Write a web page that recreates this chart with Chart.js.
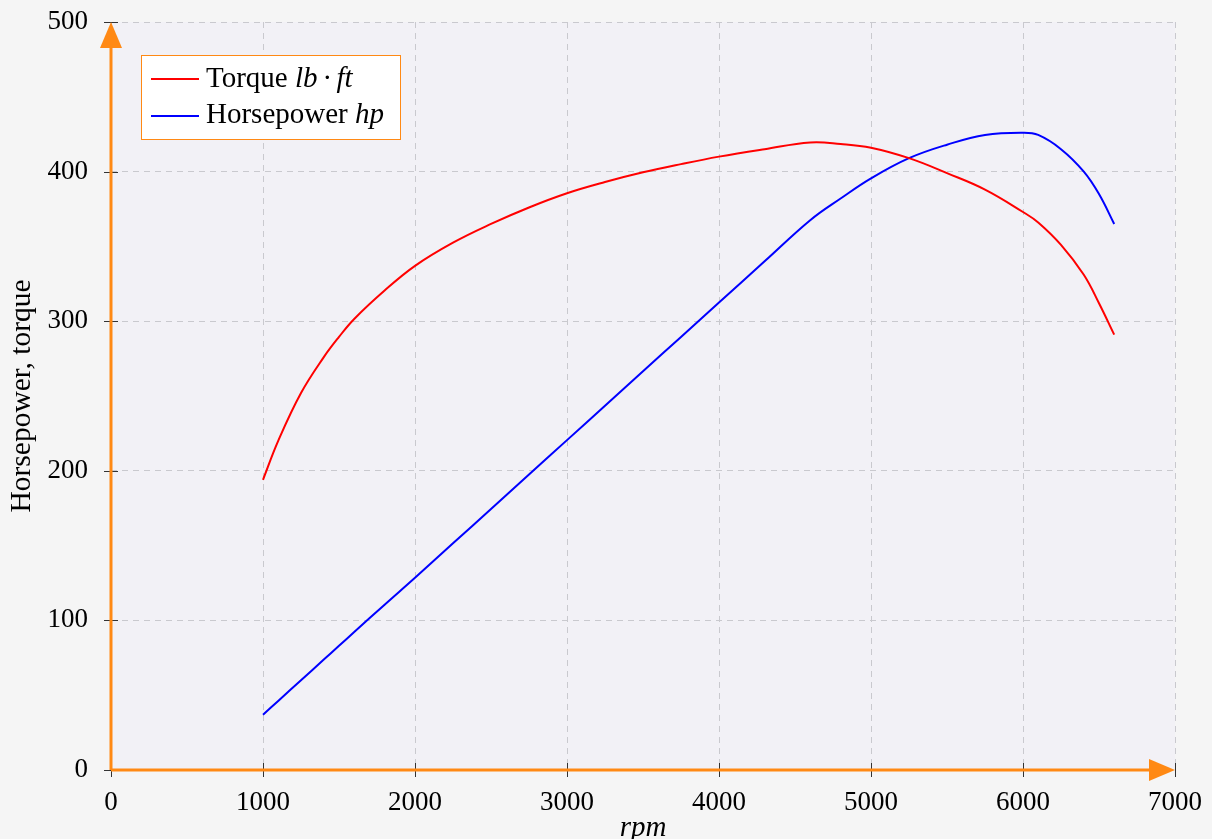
<html>
<head>
  <script src="https://cdn.jsdelivr.net/npm/chart.js@4.4.0/dist/chart.umd.min.js"></script>
  <style>
    body { margin: 0; background: #f5f5f5; }
  </style>
</head>
<body>
  <canvas id="chart" width="1212" height="839"></canvas>
  <script>
    // engine speed samples (rpm)
    const rpm = [1000, 1100, 1250, 1400, 1500, 1600, 1800, 2000, 2250, 2500, 2750, 3000, 3250, 3500, 3750, 4000,
                 4300, 4600, 4800, 5000, 5250, 5500, 5750, 6000, 6100, 6250, 6400, 6500, 6600];
    // torque, lb·ft
    const torque = [194, 220, 252, 276, 289.5, 301.5, 320.5, 337, 352.5, 365, 376, 385.5, 393, 399.5, 405, 410,
                    415, 419.5, 418.5, 416, 409, 399, 388, 373, 366, 351, 331, 312, 291];
    // horsepower, hp
    const horsepower = [37, 46.2, 60, 73.8, 83, 92.2, 110.5, 128.5, 151.5, 174.5, 197.5, 220.5, 243.5, 266.5, 289.5, 312.5,
                        340, 367.5, 382, 395.5, 409, 418, 424.5, 426, 424.5, 415, 400, 385, 365];

    const xMin = 0, xMax = 7000, xStep = 1000;
    const yMin = 0, yMax = 500, yStep = 100;

    const orange = 'rgb(255,137,20)';
    const serif = '"Liberation Serif", "DejaVu Serif", serif';

    const toPoints = ys => rpm.map((r, i) => ({ x: r, y: ys[i] }));

    // background, axes with arrows, tick marks and legend
    const decor = {
      id: 'decor',
      beforeDraw(chart) {
        const { ctx, chartArea: a } = chart;
        ctx.save();
        ctx.fillStyle = '#f5f5f5';
        ctx.fillRect(0, 0, chart.width, chart.height);
        ctx.fillStyle = '#f2f1f6';
        ctx.fillRect(a.left, a.top, a.right - a.left, a.bottom - a.top);
        ctx.restore();
      },
      afterDraw(chart) {
        const { ctx, chartArea: a, scales: { x, y } } = chart;
        ctx.save();

        // tick marks across the axes
        ctx.strokeStyle = '#333';
        ctx.lineWidth = 1;
        x.ticks.forEach(t => {
          const px = Math.round(x.getPixelForValue(t.value)) + 0.5;
          ctx.beginPath();
          ctx.moveTo(px, a.bottom - 7);
          ctx.lineTo(px, a.bottom + 7);
          ctx.stroke();
        });
        y.ticks.forEach(t => {
          const py = Math.round(y.getPixelForValue(t.value)) + 0.5;
          ctx.beginPath();
          ctx.moveTo(a.left - 7, py);
          ctx.lineTo(a.left + 7, py);
          ctx.stroke();
        });

        // orange axis lines
        ctx.strokeStyle = orange;
        ctx.lineWidth = 3;
        ctx.beginPath();
        ctx.moveTo(a.left, a.bottom);
        ctx.lineTo(a.left, a.top + 20);
        ctx.moveTo(a.left, a.bottom);
        ctx.lineTo(a.right - 20, a.bottom);
        ctx.stroke();

        ctx.fillStyle = orange;
        ctx.beginPath();
        ctx.moveTo(a.left, a.top);
        ctx.lineTo(a.left - 11, a.top + 26);
        ctx.lineTo(a.left + 11, a.top + 26);
        ctx.closePath();
        ctx.fill();
        ctx.beginPath();
        ctx.moveTo(a.right, a.bottom);
        ctx.lineTo(a.right - 26, a.bottom - 11);
        ctx.lineTo(a.right - 26, a.bottom + 11);
        ctx.closePath();
        ctx.fill();

        // legend
        const bx = 141.5, by = 55.5, bw = 259, bh = 84;
        ctx.fillStyle = '#ffffff';
        ctx.fillRect(bx, by, bw, bh);
        ctx.strokeStyle = orange;
        ctx.lineWidth = 1;
        ctx.strokeRect(bx, by, bw, bh);

        const entries = [
          { color: 'red', text: 'Torque ', math: 'lb\u2009·\u2009ft', ly: 79, ty: 87 },
          { color: 'blue', text: 'Horsepower ', math: 'hp', ly: 116, ty: 123 }
        ];
        entries.forEach(e => {
          ctx.strokeStyle = e.color;
          ctx.lineWidth = 2;
          ctx.beginPath();
          ctx.moveTo(151, e.ly);
          ctx.lineTo(199, e.ly);
          ctx.stroke();
          ctx.fillStyle = '#000';
          ctx.textBaseline = 'alphabetic';
          ctx.textAlign = 'left';
          ctx.font = '29px ' + serif;
          ctx.fillText(e.text, 206, e.ty);
          const w = ctx.measureText(e.text).width;
          ctx.font = 'italic 29px ' + serif;
          ctx.fillText(e.math, 206 + w, e.ty);
        });

        ctx.restore();
      }
    };

    const ctx = document.getElementById('chart').getContext('2d');
    const myChart = new Chart(ctx, {
      type: 'line',
      data: {
        datasets: [{
          label: 'Torque lb·ft',
          data: toPoints(torque),
          borderColor: 'red',
          borderWidth: 2,
          pointRadius: 0,
          tension: 0.4,
          fill: false
        }, {
          label: 'Horsepower hp',
          data: toPoints(horsepower),
          borderColor: 'blue',
          borderWidth: 2,
          pointRadius: 0,
          tension: 0.4,
          fill: false
        }]
      },
      options: {
        responsive: false,
        animation: false,
        layout: { padding: { top: 22, right: 37, left: 0, bottom: 0 } },
        plugins: {
          legend: { display: false },
          tooltip: { enabled: false }
        },
        scales: {
          x: {
            type: 'linear',
            min: xMin,
            max: xMax,
            afterFit: s => { s.height = 69; s.paddingLeft = 0; s.paddingRight = 0; },
            ticks: {
              stepSize: xStep,
              padding: 17,
              color: '#000',
              font: { family: serif, size: 27 },
              callback: v => String(v)
            },
            grid: { color: '#c9c9ce', lineWidth: 1, drawTicks: false },
            border: { display: false, dash: [6, 5] },
            title: {
              display: true,
              text: 'rpm',
              color: '#000',
              font: { family: serif, size: 29, style: 'italic', lineHeight: 1 },
              padding: { top: 0, bottom: -4 }
            }
          },
          y: {
            min: yMin,
            max: yMax,
            afterFit: s => { s.width = 111; s.paddingTop = 0; s.paddingBottom = 0; },
            ticks: {
              stepSize: yStep,
              padding: 23,
              color: '#000',
              font: { family: serif, size: 27 },
              callback: v => String(v)
            },
            grid: { color: '#c9c9ce', lineWidth: 1, drawTicks: false },
            border: { display: false, dash: [6, 5] },
            title: {
              display: true,
              text: 'Horsepower, torque',
              color: '#000',
              font: { family: serif, size: 29.5, lineHeight: 1 },
              padding: { top: 7, bottom: 0 }
            }
          }
        }
      },
      plugins: [decor]
    });
  </script>
</body>
</html>
